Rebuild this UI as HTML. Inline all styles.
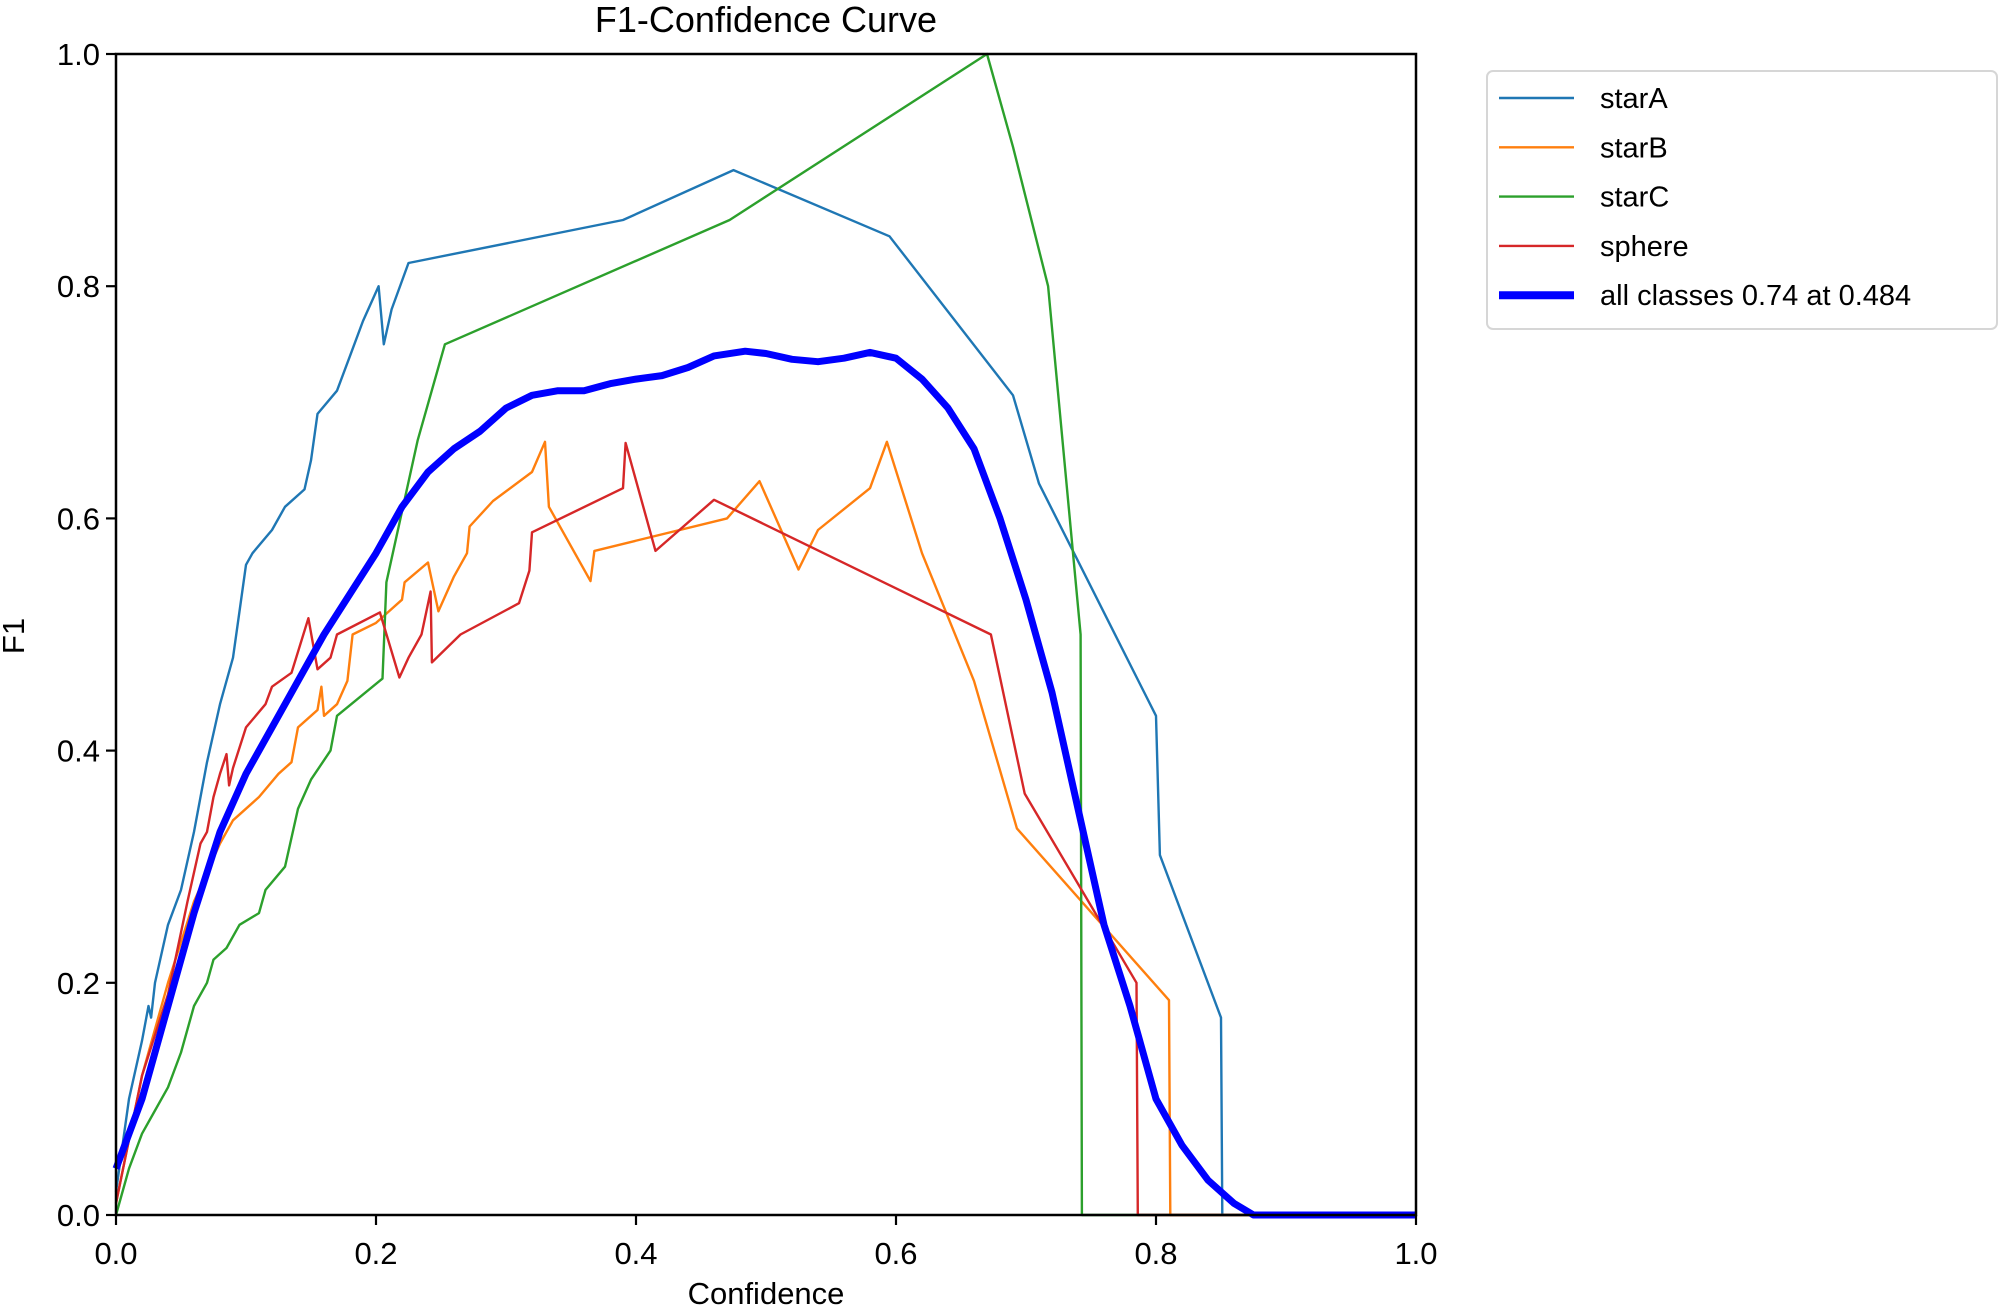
<!DOCTYPE html>
<html><head><meta charset="utf-8"><style>
html,body{margin:0;padding:0;background:#fff;}
svg{display:block;font-family:"Liberation Sans",sans-serif;}
</style></head><body>
<svg id="chart" width="2000" height="1308" viewBox="0 0 2000 1308">
<text x="766" y="32" font-size="36" text-anchor="middle">F1-Confidence Curve</text>
<g id="plot"></g>
<g id="axes"></g>
<text x="766" y="1304" font-size="31" text-anchor="middle">Confidence</text>
<text transform="translate(24,636) rotate(-90)" font-size="31" text-anchor="middle">F1</text>
<g id="legend"></g>
</svg>
<script>
const xTicks=[0,0.2,0.4,0.6,0.8,1.0];
const yTicks=[0,0.2,0.4,0.6,0.8,1.0];
const tickLabels=["0.0","0.2","0.4","0.6","0.8","1.0"];
const seriesNames=["starA","starB","starC","sphere","all classes 0.74 at 0.484"];
const seriesColors=["#1f77b4","#ff7f0e","#2ca02c","#d62728","#0000ff"];
const starAX=[0,0.01,0.02,0.025,0.027,0.03,0.04,0.05,0.06,0.07,0.08,0.09,0.095,0.1,0.105,0.12,0.13,0.145,0.15,0.155,0.17,0.18,0.19,0.202,0.206,0.212,0.225,0.39,0.475,0.595,0.69,0.71,0.8,0.803,0.85,0.851,1.0];
const starAY=[0.02,0.1,0.15,0.18,0.17,0.2,0.25,0.28,0.33,0.39,0.44,0.48,0.52,0.56,0.57,0.59,0.61,0.625,0.65,0.69,0.71,0.74,0.77,0.8,0.75,0.78,0.82,0.857,0.9,0.843,0.706,0.63,0.43,0.31,0.17,0,0];
const starBX=[0,0.02,0.04,0.06,0.08,0.09,0.1,0.11,0.125,0.135,0.14,0.15,0.155,0.158,0.16,0.17,0.178,0.182,0.2,0.22,0.222,0.24,0.248,0.26,0.27,0.272,0.29,0.32,0.33,0.333,0.365,0.368,0.47,0.495,0.525,0.54,0.58,0.593,0.62,0.66,0.693,0.81,0.811,1.0];
const starBY=[0.01,0.12,0.2,0.27,0.32,0.34,0.35,0.36,0.38,0.39,0.42,0.43,0.435,0.455,0.43,0.44,0.46,0.5,0.51,0.53,0.545,0.562,0.52,0.55,0.57,0.593,0.615,0.64,0.666,0.61,0.546,0.572,0.6,0.632,0.556,0.59,0.626,0.666,0.57,0.46,0.333,0.185,0,0];
const starCX=[0,0.01,0.02,0.03,0.04,0.05,0.06,0.07,0.075,0.085,0.095,0.11,0.115,0.13,0.14,0.15,0.165,0.17,0.205,0.208,0.232,0.253,0.472,0.67,0.69,0.717,0.742,0.743,1.0];
const starCY=[0,0.04,0.07,0.09,0.11,0.14,0.18,0.2,0.22,0.23,0.25,0.26,0.28,0.3,0.35,0.375,0.4,0.43,0.462,0.545,0.667,0.75,0.857,1.0,0.92,0.8,0.5,0,0];
const sphereX=[0,0.02,0.04,0.055,0.065,0.07,0.075,0.08,0.085,0.087,0.09,0.1,0.115,0.12,0.135,0.148,0.155,0.165,0.17,0.203,0.218,0.225,0.235,0.242,0.243,0.265,0.31,0.318,0.32,0.39,0.392,0.415,0.46,0.673,0.699,0.785,0.786,1.0];
const sphereY=[0.01,0.12,0.19,0.27,0.32,0.33,0.36,0.38,0.397,0.37,0.385,0.42,0.44,0.455,0.467,0.514,0.47,0.48,0.5,0.519,0.463,0.48,0.5,0.537,0.476,0.5,0.527,0.555,0.588,0.626,0.665,0.572,0.616,0.5,0.363,0.2,0,0];
const allX=[0,0.02,0.04,0.06,0.08,0.1,0.12,0.14,0.16,0.18,0.2,0.22,0.24,0.26,0.28,0.3,0.32,0.34,0.36,0.38,0.4,0.42,0.44,0.46,0.484,0.5,0.52,0.54,0.56,0.58,0.6,0.62,0.64,0.66,0.68,0.7,0.72,0.74,0.76,0.78,0.8,0.82,0.84,0.86,0.875,1.0];
const allY=[0.04,0.1,0.18,0.26,0.33,0.38,0.42,0.46,0.5,0.535,0.57,0.61,0.64,0.66,0.675,0.695,0.706,0.71,0.71,0.716,0.72,0.723,0.73,0.74,0.744,0.742,0.737,0.735,0.738,0.743,0.738,0.72,0.695,0.66,0.6,0.53,0.45,0.35,0.25,0.18,0.1,0.06,0.03,0.01,0,0];

const NS="http://www.w3.org/2000/svg";
const X0=116,X1=1416,Y0=1215,Y1=54;
function sx(v){return X0+(X1-X0)*v;}
function sy(v){return Y0-(Y0-Y1)*v;}
function mk(tag,attrs,parent){const e=document.createElementNS(NS,tag);for(const k in attrs)e.setAttribute(k,attrs[k]);parent.appendChild(e);return e;}
const plot=document.getElementById('plot'),axes=document.getElementById('axes'),legend=document.getElementById('legend');
const xs=[starAX,starBX,starCX,sphereX,allX],ys=[starAY,starBY,starCY,sphereY,allY];
const keys=["stara","starb","starc","sphere","all-classes"];
for(let s=0;s<5;s++){
  const pts=xs[s].map((x,i)=>sx(x).toFixed(1)+','+sy(ys[s][i]).toFixed(1)).join(' ');
  const pl=mk('polyline',{points:pts,fill:'none',stroke:seriesColors[s],'stroke-width':s===4?7:2.4,'stroke-linejoin':'round'},plot);
  
  
}
const frame=mk('rect',{x:X0,y:Y1,width:X1-X0,height:Y0-Y1,fill:'none',stroke:'#000','stroke-width':2.5},axes);


xTicks.forEach((t,i)=>{
  const l=mk('line',{x1:sx(t),x2:sx(t),y1:Y0,y2:Y0+10,stroke:'#000','stroke-width':2.2},axes);
  
  
  const tx=mk('text',{x:sx(t),y:1264,'font-size':31,'text-anchor':'middle'},axes);tx.textContent=tickLabels[i];
  
  
});
yTicks.forEach((t,i)=>{
  const l=mk('line',{x1:X0-10,x2:X0,y1:sy(t),y2:sy(t),stroke:'#000','stroke-width':2.2},axes);
  
  
  const tx=mk('text',{x:X0-16,y:sy(t)+11,'font-size':31,'text-anchor':'end'},axes);tx.textContent=tickLabels[i];
  
  
});
const box=mk('rect',{x:1487,y:71,width:510,height:258,rx:6,fill:'#fff',stroke:'#d6d6d6','stroke-width':2},legend);


for(let s=0;s<5;s++){
  const y=98+s*49.3;
  const g=mk('g',{},legend);
  
  
  mk('line',{x1:1499,x2:1574,y1:y,y2:y,stroke:seriesColors[s],'stroke-width':s===4?8:2.4},g);
  const t=mk('text',{x:1600,y:y+10,'font-size':29},g);t.textContent=seriesNames[s];
}
</script>
</body></html>
